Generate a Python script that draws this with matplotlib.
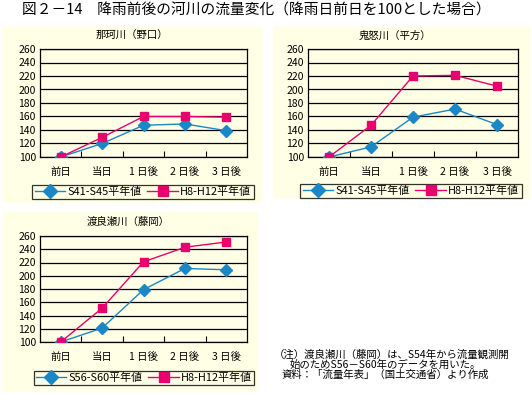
import matplotlib
matplotlib.use('Agg')
import matplotlib.pyplot as plt
from matplotlib.patches import Rectangle
from matplotlib.lines import Line2D

plt.rcParams['font.family'] = ['Noto Sans CJK JP', 'DejaVu Sans']

# データ
days = ['前日', '当日', '1 日後', '2 日後', '3 日後']

naka_old = [100, 120, 147, 149, 139]
naka_new = [100, 129, 160, 160, 159]

kinu_old = [100, 115, 159, 171, 148]
kinu_new = [100, 147, 220, 221, 205]

watara_old = [100, 121, 179, 211, 209]
watara_new = [100, 151, 221, 243, 251]

panels = [
    ('那珂川（野口）', 'S41-S45平年値', naka_old, naka_new),
    ('鬼怒川（平方）', 'S41-S45平年値', kinu_old, kinu_new),
    ('渡良瀬川（藤岡）', 'S56-S60平年値', watara_old, watara_new),
]

W, H = 531, 396
BG = '#FFFFE6'
BLUE = '#1A87C6'
PINK = '#E8006E'

fig = plt.figure(figsize=(W / 100, H / 100), dpi=100)


def fx(px):
    return px / W


def fy(py):
    return 1 - py / H


# パネル背景 (left, top, right, bottom) in px
boxes = [(3, 27, 262, 203), (273, 27, 531, 198), (3, 212, 258, 392)]
for l, t, r, b in boxes:
    fig.patches.append(Rectangle((fx(l), fy(b)), fx(r - l), (b - t) / H,
                                 transform=fig.transFigure, facecolor=BG,
                                 edgecolor='none', zorder=-5))

# 軸の位置 (left, top, right, bottom)
axes_px = [(40, 49, 247, 157), (308, 49, 518, 157), (40, 236, 247, 342)]
title_pos = [(132, 36), (395, 36), (128, 222)]
legend_pos = [(143, 192), (411, 191), (144, 378)]

for (name, old_label, old, new), (l, t, r, b), (tx, ty), (lx, ly) in zip(
        panels, axes_px, title_pos, legend_pos):
    ax = fig.add_axes([fx(l), fy(b), fx(r - l), (b - t) / H])
    ax.set_zorder(2)
    ax.set_facecolor(BG)
    x = range(len(days))
    ax.plot(x, old, color=BLUE, lw=1.0, marker='D', ms=6.5, mfc=BLUE,
            mec=BLUE, zorder=3)
    ax.plot(x, new, color=PINK, lw=1.0, marker='s', ms=6, mfc=PINK,
            mec=PINK, zorder=3)
    ax.set_xlim(-0.5, 4.5)
    ax.set_ylim(100, 260)
    ax.set_yticks(range(100, 261, 20))
    ax.grid(axis='y', color='black', lw=0.9)
    ax.set_axisbelow(True)
    ax.set_xticks(list(x))
    ax.set_xticklabels(days, fontsize=7.5)
    ax.set_xticks([0.5, 1.5, 2.5, 3.5], minor=True)
    ax.tick_params(axis='x', which='major', length=0, pad=7)
    ax.tick_params(axis='x', which='minor', length=4, direction='in', width=0.8)
    ax.tick_params(axis='y', length=0, labelsize=7.5, pad=3)
    for s in ax.spines.values():
        s.set_color('black')
        s.set_linewidth(0.9)
    fig.text(fx(tx), fy(ty), name, ha='center', va='center', fontsize=7.5)

    handles = [Line2D([], [], color=BLUE, lw=1.0, marker='D', ms=7),
               Line2D([], [], color=PINK, lw=1.0, marker='s', ms=6.5)]
    leg = fig.legend(handles, [old_label, 'H8-H12平年値'], ncol=2,
                     loc='center', bbox_to_anchor=(fx(lx), fy(ly)),
                     fontsize=7.9, frameon=True, fancybox=False,
                     handlelength=2.8, handletextpad=0.2, columnspacing=0.5,
                     borderpad=0.2, borderaxespad=0)
    leg.get_frame().set_edgecolor('black')
    leg.get_frame().set_linewidth(0.9)
    leg.get_frame().set_facecolor(BG)

fig.text(fx(22), fy(11), '図２－14　降雨前後の河川の流量変化（降雨日前日を100とした場合）',
         ha='left', va='center', fontsize=10.6)

fig.text(fx(274), fy(355), '（注）渡良瀬川（藤岡）は、S54年から流量観測開',
         ha='left', va='center', fontsize=7.5)
fig.text(fx(290), fy(365), '始のためS56－S60年のデータを用いた。',
         ha='left', va='center', fontsize=7.5)
fig.text(fx(282), fy(375), '資料：「流量年表」（国土交通省）より作成',
         ha='left', va='center', fontsize=7.5)

fig.savefig('out.png', dpi=100, facecolor='white')
